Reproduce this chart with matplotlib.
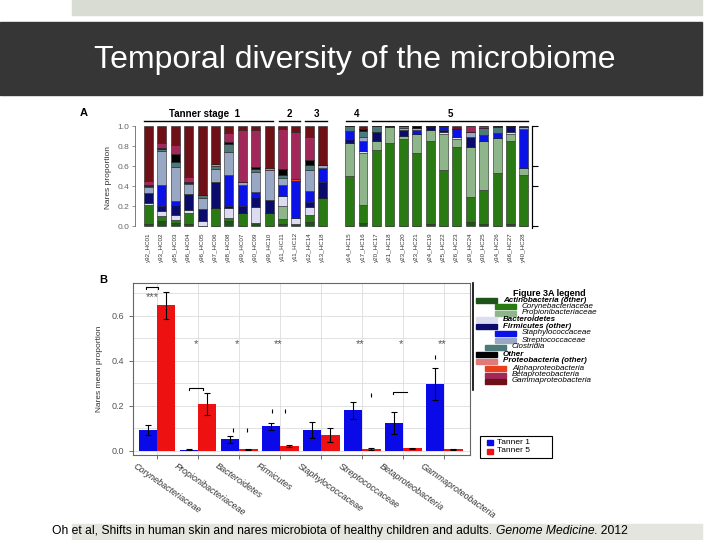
import matplotlib
matplotlib.use('Agg')
import matplotlib.pyplot as plt
from matplotlib.patches import Rectangle
import numpy as np

plt.rcParams['font.family'] = ['Liberation Sans', 'DejaVu Sans']

# ---------------- panel A data (nares proportion per sample) ----------------
samples = ['y92_HC01', 'y93_HC02', 'y95_HC03', 'y96_HC04', 'y96_HC05', 'y97_HC06',
           'y98_HC08', 'y99_HC07', 'y90_HC09', 'y99_HC10', 'y11_HC11', 'y11_HC12',
           'y12_HC14', 'y13_HC18',
           'y14_HC15', 'y17_HC16', 'y20_HC17', 'y21_HC18', 'y23_HC20', 'y23_HC21',
           'y24_HC19', 'y25_HC22', 'y26_HC23', 'y29_HC24', 'y30_HC25', 'y34_HC26',
           'y36_HC27', 'y40_HC28']

actino_other = [0.02, 0.05, 0.03, 0.02, 0, 0, 0.05, 0, 0.03, 0, 0.02, 0.02, 0.04, 0,
                0, 0.03, 0, 0, 0, 0, 0.02, 0, 0, 0.04, 0.02, 0, 0.02, 0]
coryne = [0.19, 0.05, 0.03, 0.11, 0, 0.18, 0.03, 0.13, 0, 0.13, 0.05, 0, 0.07, 0.28,
          0.50, 0.18, 0.76, 0.83, 0.87, 0.73, 0.83, 0.56, 0.79, 0.25, 0.34, 0.53, 0.83, 0.51]
propioni = [0, 0, 0, 0, 0, 0, 0, 0, 0, 0, 0.13, 0, 0, 0,
            0.33, 0.52, 0.09, 0.16, 0.03, 0.19, 0.11, 0.36, 0.08, 0.50, 0.49, 0.35, 0.07, 0.07]
bacteroidetes = [0.02, 0.05, 0.05, 0.03, 0.05, 0, 0.10, 0, 0.16, 0, 0.10, 0.06, 0.08, 0,
                 0, 0.02, 0, 0, 0, 0, 0, 0.02, 0.02, 0, 0, 0, 0.02, 0]
firm_other = [0.10, 0.05, 0.10, 0.16, 0.12, 0.26, 0.02, 0.07, 0.10, 0.13, 0, 0, 0.05, 0.16,
              0.04, 0, 0.09, 0, 0.06, 0, 0.03, 0.02, 0, 0.10, 0, 0, 0.06, 0]
staph = [0, 0.21, 0.04, 0, 0, 0, 0.31, 0.21, 0.05, 0, 0.11, 0.37, 0.11, 0.14,
         0.08, 0.10, 0, 0, 0, 0.04, 0, 0.04, 0.08, 0, 0.06, 0.05, 0, 0.39]
strep = [0.06, 0.34, 0.34, 0.10, 0.11, 0.13, 0.23, 0.03, 0.20, 0.30, 0.07, 0, 0.21, 0.03,
         0, 0.04, 0, 0, 0.02, 0.02, 0, 0, 0, 0.05, 0, 0, 0, 0.02]
clostridia = [0.01, 0.02, 0.05, 0.01, 0.03, 0.03, 0.08, 0, 0.03, 0, 0.03, 0, 0.05, 0,
              0.05, 0.06, 0.06, 0.01, 0.02, 0, 0, 0, 0, 0, 0.07, 0.06, 0, 0]
other = [0.01, 0.01, 0.08, 0.01, 0, 0, 0.02, 0, 0.02, 0, 0.06, 0, 0.05, 0,
         0, 0.02, 0, 0, 0, 0.02, 0.01, 0, 0, 0, 0, 0.01, 0, 0]
proteo_other = [0, 0, 0, 0, 0, 0.02, 0, 0, 0, 0.02, 0, 0, 0, 0,
                0, 0, 0, 0, 0, 0, 0, 0, 0, 0, 0, 0, 0, 0]
alpha = [0, 0, 0, 0, 0, 0, 0, 0, 0, 0, 0, 0.02, 0, 0,
         0, 0, 0, 0, 0, 0, 0, 0, 0, 0, 0, 0, 0, 0]
beta = [0.04, 0.05, 0.09, 0.05, 0, 0, 0.09, 0.52, 0.37, 0, 0.40, 0.47, 0.23, 0,
        0, 0, 0, 0, 0, 0, 0, 0, 0, 0.06, 0.02, 0, 0, 0.01]
gamma = [0.55, 0.17, 0.19, 0.51, 0.69, 0.38, 0.07, 0.04, 0.04, 0.42, 0.03, 0.06, 0.11, 0.39,
         0, 0.03, 0, 0, 0, 0, 0, 0, 0.03, 0, 0, 0, 0, 0]

legend_names = ['Actinobacteria (other)', 'Corynebacteriaceae', 'Propionibacteriaceae',
                'Bacteroidetes', 'Firmicutes (other)', 'Staphylococcaceae',
                'Streptococcaceae', 'Clostridia', 'Other', 'Proteobacteria (other)',
                'Alphaproteobacteria', 'Betaproteobacteria', 'Gammaproteobacteria']
legend_colors = ['#1d5219', '#2a7a14', '#8fb68b', '#dcdcf2', '#0b0b6b', '#0a12e8',
                 '#98a8c4', '#4c7a7a', '#000000', '#e07a7a', '#e8401c', '#a3285a', '#6e1016']
stack_series = [actino_other, coryne, propioni, bacteroidetes, firm_other, staph, strep,
                clostridia, other, proteo_other, alpha, beta, gamma]

stage_names = ['Tanner stage  1', '2', '3', '4', '5']
stage_sizes = [10, 2, 2, 2, 12]

# ---------------- panel B data (mean proportion, Tanner 1 vs 5) ----------------
taxa_b = ['Corynebacteriaceae', 'Propionibacteriaceae', 'Bacteroidetes', 'Firmicutes',
          'Staphylococcaceae', 'Streptococcaceae', 'Betaproteobacteria',
          'Gammaproteobacteria']
tanner1 = [0.09, 0.003, 0.05, 0.108, 0.09, 0.179, 0.122, 0.296]
tanner1_err = [0.022, 0.002, 0.015, 0.016, 0.035, 0.037, 0.05, 0.07]
tanner5 = [0.647, 0.206, 0.005, 0.02, 0.068, 0.007, 0.01, 0.005]
tanner5_err = [0.06, 0.05, 0.002, 0.003, 0.03, 0.005, 0.003, 0.002]
sig_groups = [1, 2, 3, 5, 6, 7]
sig_marks = ['*', '*', '**', '**', '*', '**']

citation = ['Oh et al, Shifts in human skin and nares microbiota of healthy children and adults. ',
            'Genome Medicine', '. 2012']

W, H = 720, 540
fig = plt.figure(figsize=(7.2, 5.4), dpi=100)


def rect(l, t, r, b):
    return [l / W, 1 - b / H, (r - l) / W, (b - t) / H]


def fx(x):
    return x / W


def fy(y):
    return 1 - y / H


# slide background bits
fig.patches.append(Rectangle((fx(72), fy(15)), fx(630), 15 / H, transform=fig.transFigure,
                             color='#d9dcd3', zorder=0))
fig.patches.append(Rectangle((0, fy(95)), fx(702), 73 / H, transform=fig.transFigure,
                             color='#363636', zorder=0))
fig.patches.append(Rectangle((fx(72), 0), fx(630), 16 / H, transform=fig.transFigure,
                             color='#e4e5de', zorder=0))
fig.text(fx(355), fy(60), 'Temporal diversity of the microbiome', color='white',
         fontsize=23, ha='center', va='center')

# ---------------- panel A ----------------
axA = fig.add_axes(rect(135, 126, 532, 228))
xpos = np.array(list(range(14)) + list(range(15, 29)), dtype=float)
bottom = np.zeros(len(samples))
for vals, col in zip(stack_series, legend_colors):
    axA.bar(xpos, vals, width=0.67, bottom=bottom, color=col, edgecolor='#222222',
            linewidth=0.4)
    bottom += np.array(vals)
axA.set_xlim(-1.0, 28.6)
axA.set_ylim(-0.02, 1.0)
for s in ['top', 'bottom']:
    axA.spines[s].set_visible(False)
axA.spines['left'].set_color('#666666')
axA.spines['left'].set_linewidth(0.6)
axA.spines['left'].set_bounds(0, 1.0)
axA.spines['right'].set_linewidth(0.8)
axA.set_yticks([0, 0.2, 0.4, 0.6, 0.8, 1.0])
axA.set_yticklabels(['0.0', '0.2', '0.4', '0.6', '0.8', '1.0'], fontsize=6, color='#444444')
axA.tick_params(axis='y', length=2, width=0.5, colors='#666666', pad=2)
axA.set_xticks(xpos)
axA.set_xticklabels(samples, rotation=90, fontsize=4.5, color='#333333')
axA.tick_params(axis='x', length=0, pad=3)
axA.set_ylabel('Nares proportion', fontsize=6, color='#333333', labelpad=4)
axA.text(-0.14, 1.1, 'A', transform=axA.transAxes, fontsize=8, fontweight='bold')
axA2 = axA.twinx()
axA2.set_ylim(axA.get_ylim())
axA2.set_yticks([0, 0.4, 0.6, 1.0])
axA2.set_yticklabels([])
axA2.tick_params(axis='y', length=4, width=0.8)
for s in ['top', 'bottom', 'left']:
    axA2.spines[s].set_visible(False)
axA2.spines['right'].set_bounds(-0.02, 1.0)

# stage brackets
start = 0
for name, n in zip(stage_names, stage_sizes):
    idx = xpos[start:start + n]
    x0, x1 = idx[0] - 0.3, idx[-1] + 0.3
    axA.plot([x0, x1], [1.05, 1.05], color='black', lw=1.0, clip_on=False)
    xc = (x0 + x1) / 2 if name != stage_names[0] else (x0 + x1) / 2 - 0.3
    axA.text(xc, 1.07, name, ha='center', va='bottom', fontsize=7, fontweight='bold')
    start += n

# ---------------- panel B ----------------
axB = fig.add_axes(rect(133, 283, 470, 455))
gx = np.arange(len(taxa_b))
bw = 0.45
axB.bar(gx - bw / 2, tanner1, width=bw, color='#0a0ae8', yerr=tanner1_err,
        error_kw=dict(ecolor='black', elinewidth=0.8, capsize=2, capthick=0.8), zorder=3)
axB.bar(gx + bw / 2, tanner5, width=bw, color='#ee1111', yerr=tanner5_err,
        error_kw=dict(ecolor='black', elinewidth=0.8, capsize=2, capthick=0.8), zorder=3)
axB.set_xlim(-0.585, 7.63)
axB.set_ylim(-0.02, 0.745)
axB.set_yticks([0, 0.2, 0.4, 0.6])
axB.set_yticklabels(['0.0', '0.2', '0.4', '0.6'], fontsize=6.5, color='#444444')
axB.set_yticks(np.arange(0.1, 0.75, 0.2), minor=True)
axB.set_xticks(gx)
axB.set_xticklabels([])
axB.tick_params(axis='both', length=3, width=0.6, colors='#555555')
axB.tick_params(axis='y', which='minor', length=0)
axB.grid(True, which='both', color='#dddddd', lw=0.6, zorder=0)
for s in axB.spines.values():
    s.set_color('#666666')
    s.set_linewidth(0.8)
axB.set_ylabel('Nares mean proportion', fontsize=6, color='#333333', labelpad=6)
axB.text(-0.1, 1.0, 'B', transform=axB.transAxes, fontsize=8, fontweight='bold')
for i, name in enumerate(taxa_b):
    axB.text(i - 0.55, -0.065, name, rotation=-35, rotation_mode='anchor', ha='left',
             va='center', fontsize=6.5, style='italic', color='#333333', clip_on=False)

# significance
axB.text(-0.12, 0.683, '***', ha='center', va='center', fontsize=8, color='#555555')
axB.plot([-0.27, -0.27, 0.02, 0.02], [0.718, 0.728, 0.728, 0.718], color='black', lw=0.8)
for g, m in zip(sig_groups, sig_marks):
    axB.text(g - 0.05, 0.473, m, ha='center', va='center', fontsize=8, color='#555555')
axB.plot([0.78, 0.78, 1.12, 1.12], [0.27, 0.28, 0.28, 0.27], color='black', lw=0.8)
axB.plot([5.76, 5.76, 6.1], [0.25, 0.26, 0.26], color='black', lw=0.8)
dot_x = [1.85, 2.2, 2.8, 3.12, 5.22, 6.78]
dot_y = [0.09, 0.09, 0.175, 0.175, 0.245, 0.415]
axB.plot(dot_x, dot_y, linestyle='none', marker='|', markersize=2.5, color='black', mew=0.8)

# Tanner legend
fig.patches.append(Rectangle((fx(480), fy(458)), fx(72), 22 / H, transform=fig.transFigure,
                             facecolor='white', edgecolor='black', lw=0.8, zorder=5))
for yy, col, lab in [(442, '#0a0ae8', 'Tanner 1'), (451, '#ee1111', 'Tanner 5')]:
    fig.patches.append(Rectangle((fx(487), fy(yy + 2.5)), fx(6), 5 / H,
                                 transform=fig.transFigure, color=col, zorder=6))
    fig.text(fx(497), fy(yy), lab, fontsize=6, va='center', zorder=7)

# Figure 3A legend
fig.lines.append(plt.Line2D([fx(473), fx(473)], [fy(283), fy(390)], transform=fig.transFigure,
                            color='black', lw=1.2))
fig.text(fx(513), fy(293), 'Figure 3A legend', fontsize=6.5, fontweight='bold', va='center')
row_y = [300, 306.5, 313, 319.5, 326, 333, 340, 347, 354, 361, 368, 375, 381]
patch_x = [476, 495, 495, 476, 476, 495, 495, 485, 476, 476, 485, 485, 485]
phylum = [True, False, False, True, True, False, False, False, True, True, False, False, False]
for yy, x0, name, col, ph in zip(row_y, patch_x, legend_names, legend_colors, phylum):
    fig.patches.append(Rectangle((fx(x0), fy(yy + 2.5)), fx(21), 5 / H,
                                 transform=fig.transFigure, color=col))
    fig.text(fx(x0 + 27), fy(yy), name, fontsize=5.8, va='center', style='italic',
             fontweight='bold' if ph else 'normal')

# citation
fig.canvas.draw()
r = fig.canvas.get_renderer()
x = 52
styles = ['normal', 'italic', 'normal']
for part, st in zip(citation, styles):
    t = fig.text(fx(x), fy(531), part, fontsize=8.7, style=st, va='center')
    bb = t.get_window_extent(renderer=r)
    x += bb.width

fig.savefig('out.png', dpi=100)
